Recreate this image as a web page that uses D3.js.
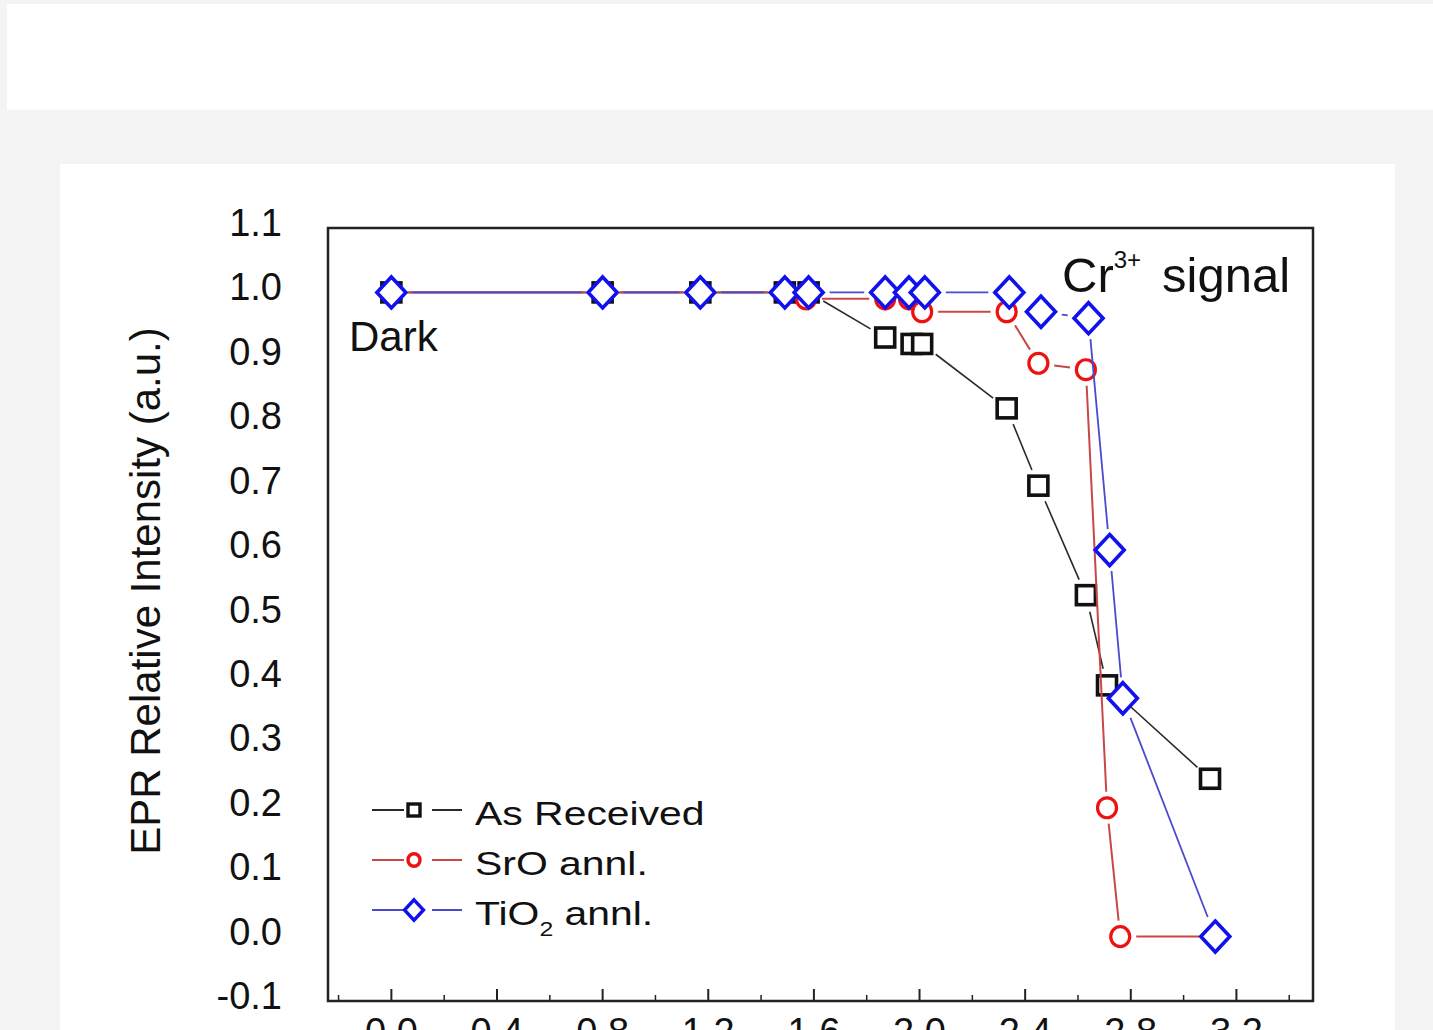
<!DOCTYPE html>
<meta charset="utf-8" />
<script src="https://d3js.org/d3.v7.min.js"></script>
<style>
  body { margin: 0; background: #f4f4f4; overflow: hidden; }
  text { font-family: "Liberation Sans", Arial, sans-serif; fill: #111; }
</style>
<div id="chart"></div>
<script>
  // ---- data ----
  const asReceivedX = [0, 0.8, 1.17, 1.49, 1.58, 1.87, 1.97, 2.01, 2.33, 2.45, 2.63, 2.71, 3.10];
  const asReceivedY = [1, 1, 1, 1, 1, 0.93, 0.92, 0.92, 0.82, 0.70, 0.53, 0.39, 0.245];

  const sroX = [0, 0.8, 1.17, 1.49, 1.57, 1.87, 1.96, 2.01, 2.33, 2.45, 2.63, 2.71, 2.76, 3.12];
  const sroY = [1, 1, 1, 1, 0.99, 0.99, 0.99, 0.97, 0.97, 0.89, 0.88, 0.20, 0.0, 0.0];

  const tio2X = [0, 0.8, 1.17, 1.49, 1.58, 1.87, 1.96, 2.02, 2.34, 2.46, 2.64, 2.72, 2.77, 3.12];
  const tio2Y = [1, 1, 1, 1, 1, 1, 1, 1, 1, 0.97, 0.96, 0.60, 0.37, 0.0];

  const xMajorTicks = [0, 0.4, 0.8, 1.2, 1.6, 2.0, 2.4, 2.8, 3.2];
  const xMinorTicks = [-0.2, 0.2, 0.6, 1.0, 1.4, 1.8, 2.2, 2.6, 3.0, 3.4];
  const yTicks = [-0.1, 0, 0.1, 0.2, 0.3, 0.4, 0.5, 0.6, 0.7, 0.8, 0.9, 1.0, 1.1];

  const seriesNames = ["As Received", "SrO annl.", "TiO2 annl."];

  // ---- page ----
  const W = 1433, H = 1030;
  const svg = d3.select("#chart").append("svg").attr("width", W).attr("height", H);

  svg.append("rect").attr("x", 7).attr("y", 4).attr("width", W - 7).attr("height", 106).attr("fill", "#fff");
  svg.append("rect").attr("x", 60).attr("y", 164).attr("width", 1335).attr("height", H - 164).attr("fill", "#fff");

  const x = d3.scaleLinear().domain([-0.24, 3.49]).range([328, 1313]);
  const y = d3.scaleLinear().domain([-0.1, 1.1]).range([1001, 228]);
  const fmt = d => d.toFixed(1); // plain hyphen for -0.1, as in the figure

  // frame
  svg.append("rect")
    .attr("x", x.range()[0]).attr("y", y.range()[1])
    .attr("width", x.range()[1] - x.range()[0])
    .attr("height", y.range()[0] - y.range()[1])
    .attr("fill", "none").attr("stroke", "#222").attr("stroke-width", 2.5);

  // x ticks (inward from bottom)
  const ax = svg.append("g");
  ax.selectAll(".maj").data(xMajorTicks).join("line")
    .attr("x1", d => x(d)).attr("x2", d => x(d))
    .attr("y1", y(-0.1)).attr("y2", y(-0.1) - 12)
    .attr("stroke", "#222").attr("stroke-width", 2);
  ax.selectAll(".min").data(xMinorTicks).join("line")
    .attr("x1", d => x(d)).attr("x2", d => x(d))
    .attr("y1", y(-0.1)).attr("y2", y(-0.1) - 6)
    .attr("stroke", "#222").attr("stroke-width", 1.5);
  ax.selectAll("text").data(xMajorTicks).join("text")
    .attr("x", d => x(d)).attr("y", 1045)
    .attr("text-anchor", "middle").style("font-size", "38px")
    .text(fmt);

  // y tick labels
  svg.append("g").selectAll("text").data(yTicks).join("text")
    .attr("x", 282).attr("y", d => y(d) + 8)
    .attr("text-anchor", "end").style("font-size", "38px")
    .text(fmt);

  // y label
  svg.append("text")
    .attr("transform", "translate(160,591) rotate(-90)")
    .attr("text-anchor", "middle").style("font-size", "42px")
    .text("EPR Relative Intensity (a.u.)");

  // ---- series ----
  const series = [
    { xs: asReceivedX, ys: asReceivedY, line: "#2a2a2a", lw: 1.6, color: "#111", shape: "square", gap: 17 },
    { xs: sroX, ys: sroY, line: "#c84848", lw: 2, color: "#ee1111", shape: "circle", gap: 16 },
    { xs: tio2X, ys: tio2Y, line: "#4a4ad0", lw: 1.8, color: "#1111ee", shape: "diamond", gap: 21 }
  ];

  function drawMarker(g, shape, color, s, sw) {
    if (shape === "square") {
      g.append("rect").attr("x", -s).attr("y", -s).attr("width", 2 * s).attr("height", 2 * s)
        .attr("fill", "#fff").attr("stroke", color).attr("stroke-width", sw);
    } else if (shape === "circle") {
      g.append("ellipse").attr("rx", s).attr("ry", s * 1.05)
        .attr("fill", "#fff").attr("stroke", color).attr("stroke-width", sw);
    } else {
      g.append("path").attr("d", `M0,${-s * 1.07}L${s},0L0,${s * 1.07}L${-s},0Z`)
        .attr("fill", "#fff").attr("stroke", color).attr("stroke-width", sw);
    }
  }

  series.forEach(sr => {
    const pts = sr.xs.map((v, i) => [x(v), y(sr.ys[i])]);
    const g = svg.append("g");
    // connecting segments with a gap around each marker
    for (let i = 0; i < pts.length - 1; i++) {
      const [x1, y1] = pts[i], [x2, y2] = pts[i + 1];
      const len = Math.hypot(x2 - x1, y2 - y1);
      if (len <= 2 * sr.gap + 2) continue;
      const ux = (x2 - x1) / len, uy = (y2 - y1) / len;
      g.append("line")
        .attr("x1", x1 + ux * sr.gap).attr("y1", y1 + uy * sr.gap)
        .attr("x2", x2 - ux * sr.gap).attr("y2", y2 - uy * sr.gap)
        .attr("stroke", sr.line).attr("stroke-width", sr.lw);
    }
    const size = sr.shape === "diamond" ? 14.5 : 9.5;
    pts.forEach(p => {
      drawMarker(g.append("g").attr("transform", `translate(${p[0]},${p[1]})`),
        sr.shape, sr.color, size, sr.shape === "circle" ? 3.2 : 3.6);
    });
  });

  // ---- annotations ----
  svg.append("text").attr("x", 349).attr("y", 351).style("font-size", "42px").text("Dark");

  const cr = svg.append("text").attr("x", 1062).attr("y", 292).style("font-size", "49px");
  cr.append("tspan").text("Cr");
  cr.append("tspan").attr("dy", -24).style("font-size", "24px").text("3+");
  cr.append("tspan").attr("x", 1162).attr("dy", 24).text("signal");

  // ---- legend ----
  const legRows = [810, 860, 910];
  const leg = svg.append("g");
  series.forEach((sr, i) => {
    const ly = legRows[i];
    leg.append("line").attr("x1", 372).attr("x2", 404).attr("y1", ly).attr("y2", ly)
      .attr("stroke", sr.line).attr("stroke-width", 2);
    leg.append("line").attr("x1", 432).attr("x2", 462).attr("y1", ly).attr("y2", ly)
      .attr("stroke", sr.line).attr("stroke-width", 2);
    const s = sr.shape === "diamond" ? 9.5 : 6;
    drawMarker(leg.append("g").attr("transform", `translate(414,${ly})`), sr.shape, sr.color, s, 3.4);

    const t = leg.append("text")
      .attr("transform", `translate(475,${ly + 15}) scale(1.24,1)`)
      .style("font-size", "33px");
    if (i < 2) {
      t.text(seriesNames[i]);
    } else {
      t.append("tspan").text("TiO");
      t.append("tspan").attr("dy", 11).style("font-size", "20px").text("2");
      t.append("tspan").attr("dy", -11).text(" annl.");
    }
  });
</script>
